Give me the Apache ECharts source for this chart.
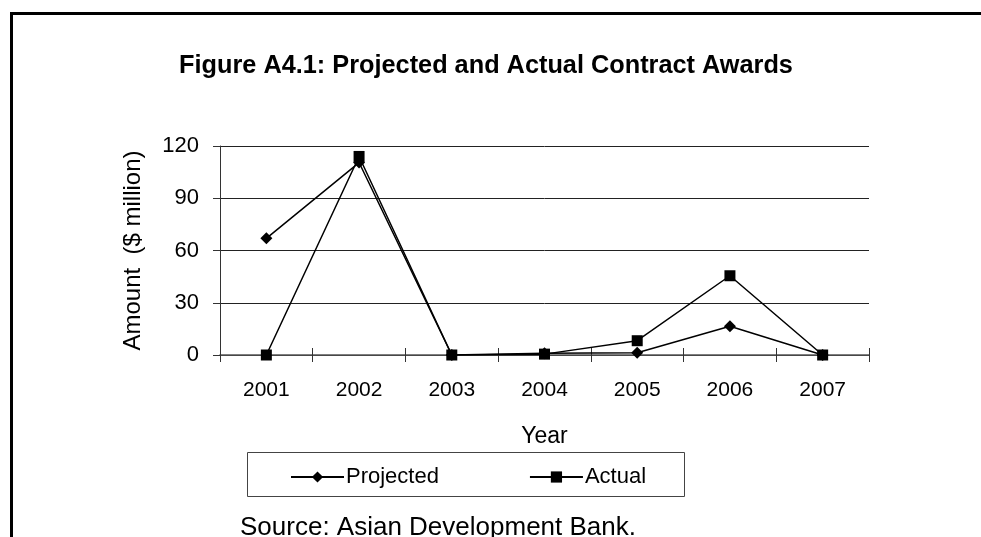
<!DOCTYPE html>
<html>
<head>
<meta charset="utf-8">
<script src="https://cdn.jsdelivr.net/npm/echarts@6/dist/echarts.min.js"></script>
<style>html,body{margin:0;padding:0;background:#fff;}#c{width:981px;height:537px;}</style>
</head>
<body>
<div id="c"></div>
<script>
var categories = ['2001', '2002', '2003', '2004', '2005', '2006', '2007'];
var projected = [67, 110.5, 0, 1, 1.3, 16.5, 0];
var actual = [0, 114, 0, 0.5, 8.2, 45.5, 0];
var yTicks = { min: 0, max: 120, interval: 30 };

var font = 'Liberation Sans, Arial, sans-serif';
var chart = echarts.init(document.getElementById('c'));
chart.setOption({
  animation: false,
  backgroundColor: '#fff',
  title: {
    text: 'Figure A4.1: Projected and Actual Contract Awards',
    left: 481, top: 49, textAlign: 'center',
    textStyle: { fontFamily: font, fontSize: 25.3, fontWeight: 'bold', color: '#000' }
  },
  grid: { left: 220, right: 112, top: 146, bottom: 182 },
  legend: {
    left: 285, top: 461,
    itemWidth: 53, itemHeight: 14, itemGap: 90,
    textStyle: { fontFamily: font, fontSize: 22, color: '#000', padding: [0, 0, 0, -3] },
    data: ['Projected', 'Actual']
  },
  xAxis: [{
    type: 'category', data: categories, boundaryGap: true,
    name: 'Year', nameLocation: 'middle', nameGap: 70,
    nameTextStyle: { fontFamily: font, fontSize: 23, color: '#000' },
    axisLine: { lineStyle: { color: '#555', width: 1.5 } },
    axisTick: { show: true, length: 7, lineStyle: { color: '#333' } },
    axisLabel: { fontFamily: font, fontSize: 21, color: '#000', margin: 25 }
  }, {
    type: 'category', data: categories, boundaryGap: true, position: 'bottom',
    axisLine: { show: false },
    axisTick: { show: true, inside: true, length: 7, lineStyle: { color: '#333' } },
    axisLabel: { show: false }
  }],
  yAxis: {
    type: 'value', min: yTicks.min, max: yTicks.max, interval: yTicks.interval,
    name: 'Amount  ($ million)', nameLocation: 'middle', nameGap: 75,
    nameTextStyle: { fontFamily: font, fontSize: 24, color: '#000' },
    axisLine: { show: true, lineStyle: { color: '#333' } },
    axisTick: { show: true, length: 7, lineStyle: { color: '#333' } },
    axisLabel: { fontFamily: font, fontSize: 22, color: '#000', margin: 21 },
    splitLine: { lineStyle: { color: '#222', width: 1 } }
  },
  series: [{
    name: 'Projected', type: 'line', data: projected,
    symbol: 'diamond', symbolSize: 12,
    lineStyle: { color: '#000', width: 1.5 },
    itemStyle: { color: '#000' }
  }, {
    name: 'Actual', type: 'line', data: actual,
    symbol: 'rect', symbolSize: 11,
    lineStyle: { color: '#000', width: 1.5 },
    itemStyle: { color: '#000' }
  }],
  graphic: [
    { type: 'line', shape: { x1: 10, y1: 13.5, x2: 981, y2: 13.5 }, style: { stroke: '#000', lineWidth: 3 } },
    { type: 'line', shape: { x1: 11.5, y1: 12, x2: 11.5, y2: 537 }, style: { stroke: '#000', lineWidth: 3 } },
    { type: 'rect', shape: { x: 247.5, y: 452.5, width: 437, height: 44 }, style: { fill: 'none', stroke: '#444', lineWidth: 1 } },
    { type: 'text', left: 240, top: 515, style: { text: 'Source: Asian Development Bank.', fontFamily: font, fontSize: 26, fill: '#000' } }
  ]
});
</script>
</body>
</html>
